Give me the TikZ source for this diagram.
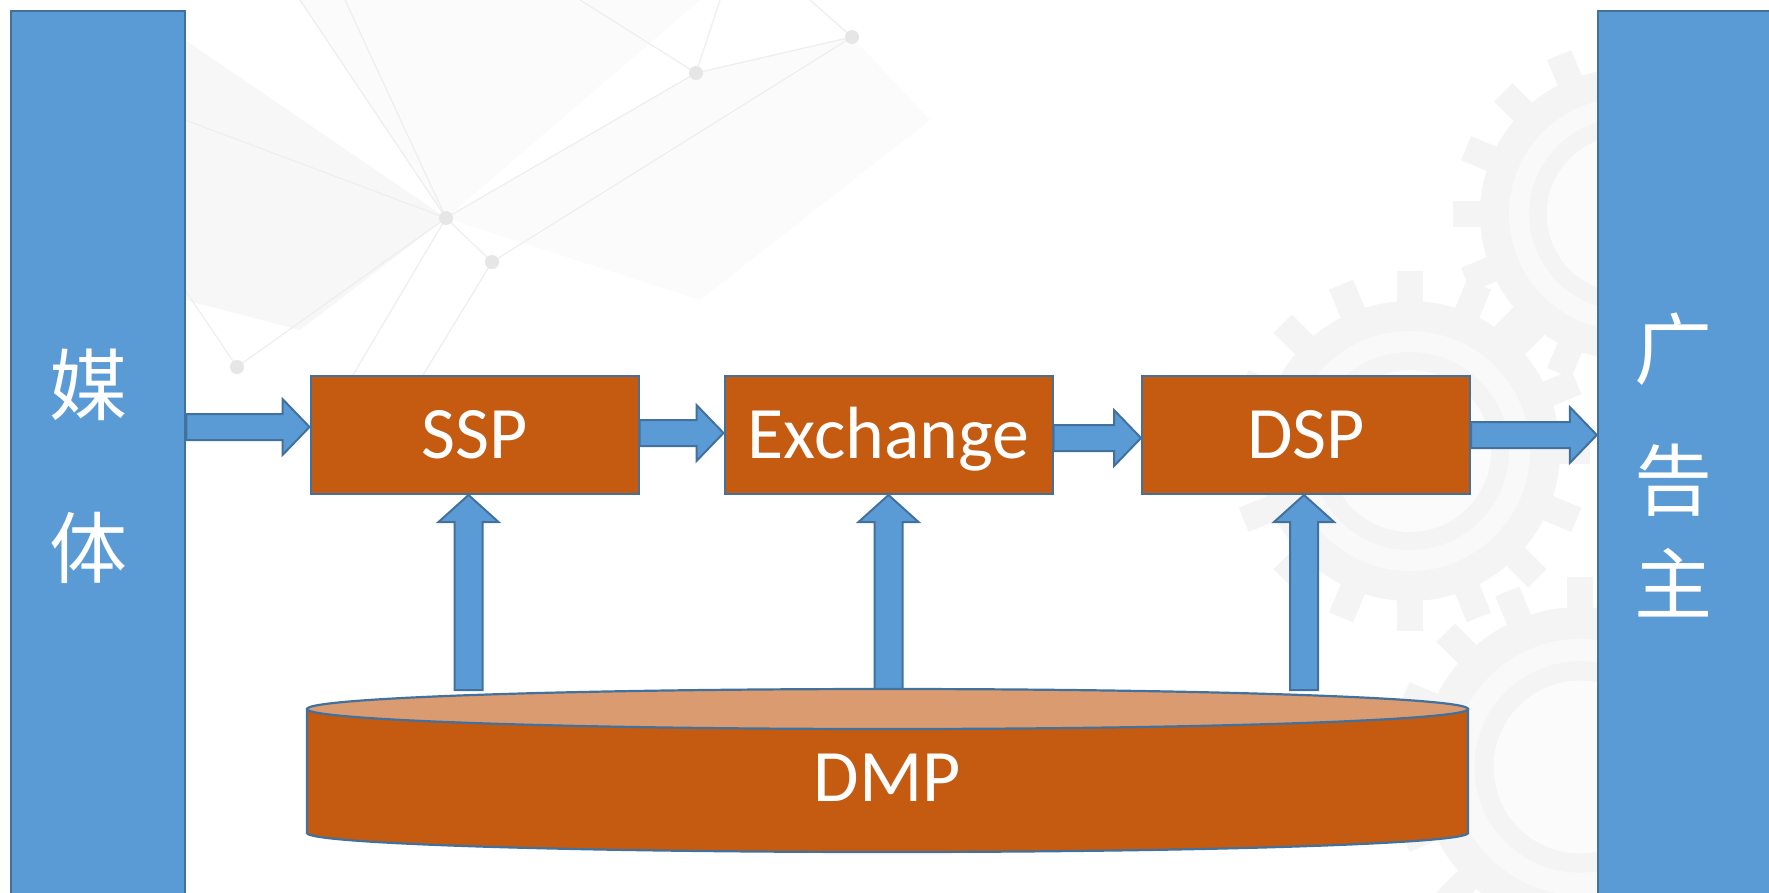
\documentclass[tikz,border=0pt]{standalone}
\usepackage{fontspec}
\setmainfont{Carlito}
\newfontfamily\cjk{Noto Sans CJK SC}
\usetikzlibrary{calc}
\definecolor{barblue}{HTML}{5B9BD5}
\definecolor{edgeblue}{HTML}{41719C}
\definecolor{rust}{HTML}{C55A11}
\definecolor{rustlight}{HTML}{DB9B70}
\definecolor{wm}{HTML}{F4F4F4}
\definecolor{wmdark}{HTML}{E6E6E6}
\definecolor{wmline}{HTML}{EEEEEE}

\tikzset{
  bar/.style={draw=edgeblue, line width=2.5pt, fill=barblue, minimum width=174pt, minimum height=889pt, inner sep=0pt},
  stage/.style={draw=edgeblue, line width=2pt, fill=rust, text=white, minimum width=328pt, minimum height=118pt,
    inner sep=0pt, text height=47pt, text depth=0pt, font=\fontsize{74}{80}\selectfont},
  dmptext/.style={text=white, inner sep=0pt, text height=47pt, text depth=0pt, font=\fontsize{74}{80}\selectfont},
  blk/.style={draw=edgeblue, line width=2pt, fill=barblue, line join=miter},
  cjktext/.style={text=white, inner sep=0pt, font=\cjk\fontsize{78}{80}\selectfont},
  cylside/.style={draw=edgeblue, line width=2.2pt, fill=rust},
  cyltop/.style={draw=edgeblue, line width=2.2pt, fill=rustlight},
  wmnet/.style={draw=wmline, line width=1.2pt},
}

% horizontal block arrow: start anchor, tip anchor, centre y (px)
\newcommand\harr[3]{%
  \filldraw[blk] let \p1=(#1), \p2=(#2) in
    (\x1,{13pt-#3pt}) -- ({\x2-27pt},{13pt-#3pt}) -- ({\x2-27pt},{28pt-#3pt}) --
    (\x2,{-#3pt}) -- ({\x2-27pt},{-28pt-#3pt}) -- ({\x2-27pt},{-13pt-#3pt}) --
    (\x1,{-13pt-#3pt}) -- cycle;}
% vertical block arrow pointing up: bottom point, tip point
\newcommand\varr[2]{%
  \filldraw[blk] let \p1=(#1), \p2=(#2) in
    ({\x2-14pt},\y1) -- ({\x2-14pt},{\y2-27pt}) -- ({\x2-30pt},{\y2-27pt}) --
    (\x2,\y2) -- ({\x2+30pt},{\y2-27pt}) -- ({\x2+14pt},{\y2-27pt}) --
    ({\x2+14pt},\y1) -- cycle;}
% faint gear watermark
\newcommand\wmgear[4]{%
  \foreach \a in {0,22.5,...,337.5}
    \fill[wm, rotate around={\a:(#1,#2)}] ({#1-13},{#2-#4}) rectangle ({#1+13},{#2});
  \fill[wm] (#1,#2) circle[radius=#3];
  \fill[white!50!wm] (#1,#2) circle[radius=#3*0.8];
  \fill[wm] (#1,#2) circle[radius=#3*0.66];
  \fill[white!60!wm] (#1,#2) circle[radius=#3*0.54];}

\begin{document}
\begin{tikzpicture}[x=1pt,y=-1pt]
\clip (0,0) rectangle (1769,892);
\fill[white] (0,0) rectangle (1769,892);

% ---- background watermark (network, top left) ----
\fill[white!97!black] (185,40) -- (446,218) -- (185,170) -- cycle;
\fill[white!97!black] (185,170) -- (446,218) -- (300,330) -- (185,300) -- cycle;
\fill[white!98.5!black] (300,0) -- (446,218) -- (700,0) -- cycle;
\fill[white!98.5!black] (446,218) -- (696,73) -- (852,37) -- (930,120) -- (700,300) -- cycle;
\draw[wmnet] (237,367) -- (446,218) -- (696,73) -- (852,37);
\draw[wmnet] (446,218) -- (492,262) -- (852,37);
\draw[wmnet] (300,0) -- (446,218);
\draw[wmnet] (345,0) -- (446,218);
\draw[wmnet] (696,73) -- (720,0);
\draw[wmnet] (696,73) -- (580,0);
\draw[wmnet] (852,37) -- (810,0);
\draw[wmnet] (237,367) -- (185,290);
\draw[wmnet] (492,262) -- (420,380);
\draw[wmnet] (446,218) -- (350,380);
\draw[wmnet] (185,120) -- (446,218);
\foreach \p in {(237,367),(446,218),(492,262),(696,73),(852,37)}
  \fill[wmdark] \p circle[radius=7];

% ---- background watermark (gears, right) ----
\wmgear{1625}{214}{145}{172}
\wmgear{1410}{451}{150}{180}
\wmgear{1580}{767}{160}{190}

% ---- side bars ----
\node[bar] (media) at (98,455.5) {};
\node[bar, minimum width=177pt] (adv) at (1686.5,455.5) {};
\node[cjktext] (m1) at (88,385) {媒};
\node[cjktext] (m2) at (88,548) {体};
\node[cjktext] (a1) at (1673,349) {广};
\node[cjktext] (a2) at (1673,480) {告};
\node[cjktext] (a3) at (1673,583) {主};

% ---- stages ----
\node[stage] (ssp)  at (474.5,435) {SSP};
\node[stage] (exch) at (888.5,435) {Exchange};
\node[stage] (dsp)  at (1306,435) {DSP};

% ---- horizontal arrows ----
\harr{media.east}{ssp.west}{427}
\harr{ssp.east}{exch.west}{433}
\harr{exch.east}{dsp.west}{438}
\harr{dsp.east}{adv.west}{435}

% ---- vertical arrows from DMP ----
\coordinate (dmptop) at (888,690);
\varr{$(ssp.south |- dmptop)+(-6,0)$}{$(ssp.south)+(-6,0)$}
\varr{exch.south |- dmptop}{exch.south}
\varr{$(dsp.south |- dmptop)+(-2,0)$}{$(dsp.south)+(-2,0)$}

% ---- DMP cylinder ----
\filldraw[cylside] (307,709) -- (307,833) arc[start angle=180, end angle=0, x radius=580.5, y radius=19] -- (1468,709) -- cycle;
\filldraw[cyltop] (887.5,709) ellipse [x radius=580.5, y radius=20];
\node[dmptext] (dmp) at (887.5,778) {DMP};
\end{tikzpicture}
\end{document}
